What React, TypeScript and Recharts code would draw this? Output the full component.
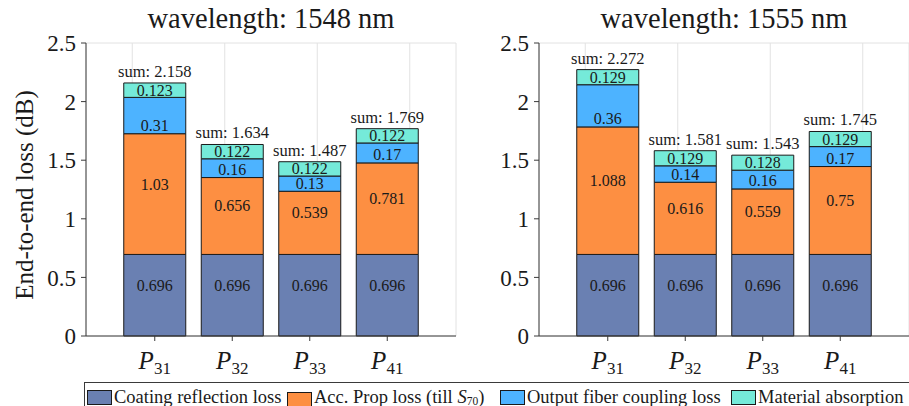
import React from 'react';
import { BarChart, Bar, XAxis, YAxis, CartesianGrid, LabelList } from 'recharts';

const categories = ['P31', 'P32', 'P33', 'P41'];

const coating1548 = [0.696, 0.696, 0.696, 0.696];
const prop1548 = [1.03, 0.656, 0.539, 0.781];
const output1548 = [0.31, 0.16, 0.13, 0.17];
const material1548 = [0.123, 0.122, 0.122, 0.122];
const sum1548 = ['2.158', '1.634', '1.487', '1.769'];

const coating1555 = [0.696, 0.696, 0.696, 0.696];
const prop1555 = [1.088, 0.616, 0.559, 0.75];
const output1555 = [0.36, 0.14, 0.16, 0.17];
const material1555 = [0.129, 0.129, 0.128, 0.129];
const sum1555 = ['2.272', '1.581', '1.543', '1.745'];

const yTicks = [0, 0.5, 1, 1.5, 2, 2.5];

const seriesKeys = ['coating', 'prop', 'output', 'material'];
const seriesNames = [
  'Coating reflection loss',
  'Acc. Prop loss (till S70)',
  'Output fiber coupling loss',
  'Material absorption',
];
const seriesColors = ['#6a80b2', '#fd8f42', '#4db3ff', '#75ead9'];
const legendItemWidths = [200, 213, 231, 160];

const FONT = "'Liberation Serif', 'Times New Roman', serif";
const AXIS = '#3a3a3a';
const TEXT = '#1a1a1a';

function buildRows(coating: number[], prop: number[], output: number[], material: number[], sums: string[]) {
  return categories.map((c, i) => ({
    cat: c,
    coating: coating[i],
    prop: prop[i],
    output: output[i],
    material: material[i],
    sum: sums[i],
  }));
}

function rectOf(props: any) {
  const vb = props.viewBox && props.viewBox.width !== undefined ? props.viewBox : props;
  const x = Number(vb.x);
  const y = Number(vb.y);
  const w = Number(vb.width);
  const h = Number(vb.height);
  const top = Math.min(y, y + h);
  return { x, top, w, h: Math.abs(h) };
}

const segLabel = (mode: string) => (props: any) => {
  const { x, top, w, h } = rectOf(props);
  let cy = top + h / 2;
  if (mode === 'up') cy -= 10;
  if (mode === 'bottom') cy = top + h - Math.min(h / 2, 8);
  return (
    <text
      x={x + w / 2}
      y={cy}
      textAnchor="middle"
      dominantBaseline="central"
      fontSize={16}
      fontFamily={FONT}
      fill={TEXT}
    >
      {String(props.value)}
    </text>
  );
};

const sumLabel = (props: any) => {
  const { x, top, w } = rectOf(props);
  return (
    <text x={x + w / 2} y={top - 6} textAnchor="middle" fontSize={16.5} fontFamily={FONT} fill={TEXT}>
      {'sum: ' + props.value}
    </text>
  );
};

const PTick = (props: any) => {
  const { x, y, payload } = props;
  const label: string = payload.value;
  return (
    <text x={x} y={y + 28} textAnchor="middle" fontFamily={FONT} fill={TEXT}>
      <tspan fontSize={25} fontStyle="italic">{label.slice(0, 1)}</tspan>
      <tspan fontSize={17} dy={5}>{label.slice(1)}</tspan>
    </text>
  );
};

const modes = ['up', 'up', 'bottom', 'center'];

function Panel({ rows, width, yAxisWidth }: { rows: any[]; width: number; yAxisWidth: number }) {
  return (
    <BarChart
      width={width}
      height={406}
      data={rows}
      margin={{ top: 43, right: width - yAxisWidth - 370, bottom: 0, left: 0 }}
      barCategoryGap="10%"
    >
      <CartesianGrid stroke="#e2e2e2" strokeWidth={1} />
      <XAxis
        xAxisId="bottom"
        dataKey="cat"
        height={70}
        padding={{ left: 30, right: 30 }}
        axisLine={{ stroke: AXIS }}
        tickLine={{ stroke: AXIS }}
        tickSize={5}
        tickMargin={0}
        tick={<PTick />}
        interval={0}
      />
      <XAxis
        xAxisId="top"
        orientation="top"
        dataKey="cat"
        height={0}
        padding={{ left: 30, right: 30 }}
        axisLine={{ stroke: AXIS }}
        tickLine={{ stroke: AXIS }}
        tickSize={5}
        tick={false}
        interval={0}
      />
      <YAxis
        yAxisId="left"
        width={yAxisWidth}
        domain={[0, 2.5]}
        ticks={yTicks}
        axisLine={{ stroke: AXIS }}
        tickLine={{ stroke: AXIS }}
        tickSize={5}
        tickMargin={5}
        tick={{ fontSize: 23, fontFamily: FONT, fill: TEXT }}
      />
      <YAxis
        yAxisId="right"
        orientation="right"
        width={0}
        domain={[0, 2.5]}
        ticks={yTicks}
        axisLine={{ stroke: AXIS }}
        tickLine={{ stroke: AXIS }}
        tickSize={5}
        tick={false}
      />
      {seriesKeys.map((k, i) => (
        <Bar
          key={k}
          dataKey={k}
          stackId="s"
          xAxisId="bottom"
          yAxisId="left"
          fill={seriesColors[i]}
          stroke="#1a1a1a"
          strokeWidth={1}
          isAnimationActive={false}
        >
          <LabelList dataKey={k} content={segLabel(modes[i])} />
          {k === 'material' ? <LabelList dataKey="sum" content={sumLabel} /> : null}
        </Bar>
      ))}
    </BarChart>
  );
}

function LegendName({ name }: { name: string }) {
  if (name.includes('S70')) {
    const [a, b] = name.split('S70');
    return (
      <span>
        {a}
        <i>S</i>
        <span style={{ fontSize: 11.5, verticalAlign: -2 }}>70</span>
        {b}
      </span>
    );
  }
  return <span>{name}</span>;
}

export default function App() {
  const rows1548 = buildRows(coating1548, prop1548, output1548, material1548, sum1548);
  const rows1555 = buildRows(coating1555, prop1555, output1555, material1555, sum1555);
  const titleStyle: React.CSSProperties = {
    position: 'absolute',
    width: 370,
    top: 5,
    textAlign: 'center',
    fontSize: 28.5,
    lineHeight: 1,
    whiteSpace: 'nowrap',
  };
  return (
    <div
      style={{
        position: 'absolute',
        left: 0,
        top: 0,
        width: 909,
        height: 406,
        background: '#fff',
        overflow: 'hidden',
        fontFamily: FONT,
        color: TEXT,
      }}
    >
      <div style={{ position: 'absolute', left: 0, top: 0 }}>
        <Panel rows={rows1548} width={460} yAxisWidth={86} />
      </div>
      <div style={{ position: 'absolute', left: 460, top: 0 }}>
        <Panel rows={rows1555} width={449} yAxisWidth={79} />
      </div>
      <div style={{ ...titleStyle, left: 86 }}>wavelength: 1548 nm</div>
      <div style={{ ...titleStyle, left: 539 }}>wavelength: 1555 nm</div>
      <div
        style={{
          position: 'absolute',
          left: 24,
          top: 195,
          transform: 'translate(-50%, -50%) rotate(-90deg)',
          fontSize: 25,
          lineHeight: 1,
          whiteSpace: 'nowrap',
        }}
      >
        End-to-end loss (dB)
      </div>
      <div
        style={{
          position: 'absolute',
          left: 84,
          top: 382,
          width: 840,
          height: 40,
          border: '1px solid #3a3a3a',
          boxSizing: 'border-box',
          background: '#fff',
          display: 'flex',
          alignItems: 'flex-start',
          paddingLeft: 2,
          paddingTop: 5,
          fontSize: 18.5,
          lineHeight: '18px',
          whiteSpace: 'nowrap',
        }}
      >
        {seriesNames.map((n, i) => (
          <div
            key={n}
            style={{ display: 'flex', alignItems: 'center', width: legendItemWidths[i], flex: 'none' }}
          >
            <div
              style={{
                width: 25,
                height: 15,
                background: seriesColors[i],
                border: '1px solid #1a1a1a',
                boxSizing: 'border-box',
                marginRight: 2,
                flex: 'none',
              }}
            />
            <LegendName name={n} />
          </div>
        ))}
      </div>
    </div>
  );
}
